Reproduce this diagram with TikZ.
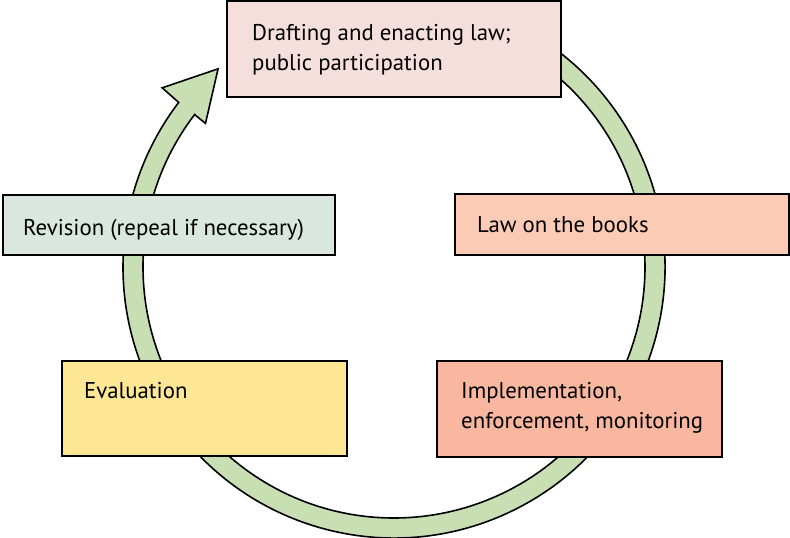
\documentclass[tikz,border=0pt]{standalone}
\usepackage{fontspec}
\setmainfont{PT Sans}
\usetikzlibrary{calc}
\definecolor{ringgreen}{HTML}{C8DFB4}
\definecolor{toppink}{HTML}{F5DFDD}
\definecolor{revgray}{HTML}{D9E7DF}
\definecolor{lawpeach}{HTML}{FBCBB5}
\definecolor{implsalmon}{HTML}{F8B79E}
\definecolor{evalyellow}{HTML}{FDE794}
\begin{document}
\begin{tikzpicture}[x=1pt,y=-1pt,
  box/.style={draw=black, line width=2pt, anchor=north west, inner sep=0pt, outer sep=0pt},
  lbl/.style={anchor=base west, inner sep=0pt, font=\fontsize{22.8}{30}\selectfont, align=left},
  ringstyle/.style={draw=black, line width=1.6pt, fill=ringgreen, line join=miter}]
\useasboundingbox (0,0) rectangle (790,538);
\coordinate (c) at (394,267);
% ring arrow
\path[ringstyle] ($(c)+(-75:271)$) arc[start angle=-75, end angle=217.4, radius=271]
  -- ($(c)+(217.7:293)$) -- ($(c)+(228.4:265)$) -- ($(c)+(217.3:237)$)
  -- ($(c)+(217.4:251)$) arc[start angle=217.4, end angle=-75, radius=251] -- cycle;
% boxes
\node[box, fill=toppink, minimum width=334pt, minimum height=96pt] (draft) at (227,1) {};
\node[box, fill=revgray, minimum width=332pt, minimum height=60pt] (rev) at (3,195) {};
\node[box, fill=lawpeach, minimum width=334pt, minimum height=61pt] (books) at (455,194) {};
\node[box, fill=evalyellow, minimum width=285pt, minimum height=95pt] (eval) at (62,361) {};
\node[box, fill=implsalmon, minimum width=285pt, minimum height=96pt] (impl) at (437,361) {};
% labels
\node[lbl] (tdraft) at (252,70) {Drafting and enacting law;\\public participation};
\node[lbl] (trev) at (23,235) {Revision (repeal if necessary)};
\node[lbl] (tbooks) at (477,232) {Law on the books};
\node[lbl] (teval) at (84,398) {Evaluation};
\node[lbl] (timpl) at (461,428) {Implementation,\\enforcement, monitoring};
\end{tikzpicture}
\end{document}
